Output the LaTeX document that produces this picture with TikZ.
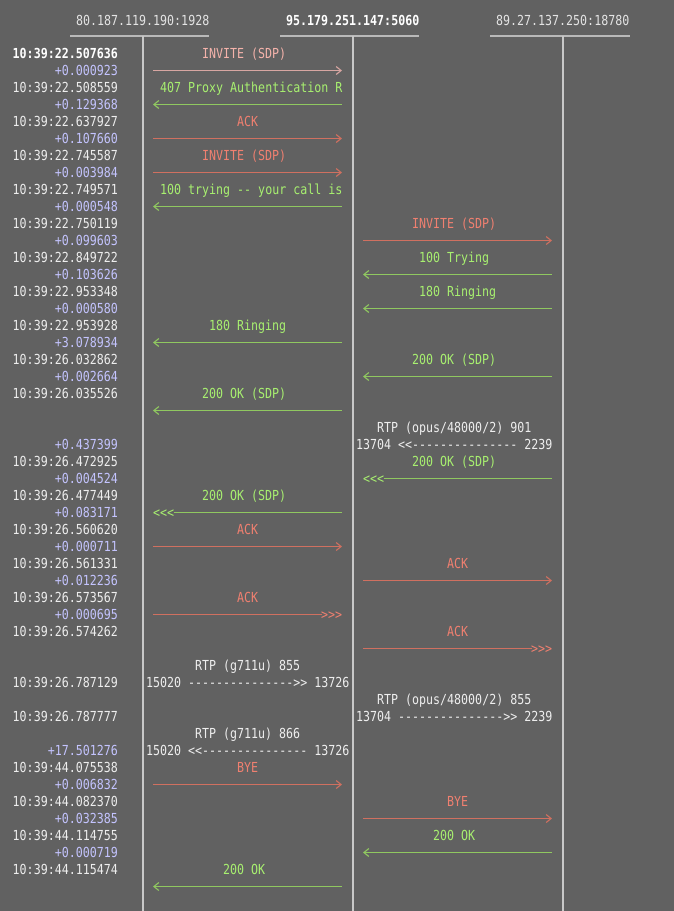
\documentclass[tikz,border=0pt]{standalone}
\usepackage{fontspec}
\newfontfamily\mono[FakeStretch=0.843,Ligatures=TeXOff]{DejaVu Sans Mono}
\usetikzlibrary{arrows.meta}
\definecolor{bg}{HTML}{616161}
\definecolor{fgw}{HTML}{EEEEEE}
\definecolor{hdr}{HTML}{E4E4E4}
\definecolor{lav}{HTML}{C4C4FF}
\definecolor{redt}{HTML}{F08070}
\definecolor{redl}{HTML}{D07060}
\definecolor{pinkt}{HTML}{F5B3AB}
\definecolor{pinkl}{HTML}{D8A6A2}
\definecolor{grnt}{HTML}{A8F070}
\definecolor{grnl}{HTML}{90C860}
\definecolor{life}{HTML}{C8C8C8}
\begin{document}
\begin{tikzpicture}[x=1pt,y=-1pt,
  txt/.style={font=\mono\fontsize{13.8}{15}\selectfont, inner sep=0pt, anchor=base west},
  tim/.style={txt, anchor=base east, text=fgw},
  dlt/.style={txt, anchor=base east, text=lav},
  reqtxt/.style={txt, text=redt},
  seltxt/.style={txt, text=pinkt},
  resptxt/.style={txt, text=grnt},
  rtptxt/.style={txt, text=fgw},
  reqline/.style={draw=redl, line width=1.3pt},
  selline/.style={draw=pinkl, line width=1.3pt},
  respline/.style={draw=grnl, line width=1.3pt},
  tip/.style={-{Straight Barb[length=5pt,width=8pt,line width=1.1pt]}},
  lifeline/.style={draw=life, line width=1.6pt},
  uline/.style={draw=life!85!bg, line width=1.4pt}
]
\fill[bg] (0,0) rectangle (674,911);
\useasboundingbox (0,0) rectangle (674,911);

% headers
\node[txt, text=hdr] (h1) at (76,25) {80.187.119.190:1928};
\node[txt, text=white, font=\mono\fontsize{13.8}{15}\selectfont\bfseries] (h2) at (286,25) {95.179.251.147:5060};
\node[txt, text=hdr] (h3) at (496,25) {89.27.137.250:18780};
\coordinate (u1a) at (70,36); \coordinate (u1b) at (209,36);
\coordinate (u2a) at (280,36); \coordinate (u2b) at (419,36);
\coordinate (u3a) at (490,36); \coordinate (u3b) at (630,36);
\draw[uline] (u1a) -- (u1b);
\draw[uline] (u2a) -- (u2b);
\draw[uline] (u3a) -- (u3b);

% lifelines
\coordinate (L1t) at (143,36); \coordinate (L1b) at (143,911);
\coordinate (L2t) at (353,36); \coordinate (L2b) at (353,911);
\coordinate (L3t) at (563,36); \coordinate (L3b) at (563,911);
\draw[lifeline] (L1t) -- (L1b);
\draw[lifeline] (L2t) -- (L2b);
\draw[lifeline] (L3t) -- (L3b);

% time column
\node[tim, font=\mono\fontsize{13.8}{15}\selectfont\bfseries, text=white] (t0) at (118,58) {10:39:22.507636};
\foreach \k/\t in {2/10:39:22.508559, 4/10:39:22.637927, 6/10:39:22.745587, 8/10:39:22.749571,
  10/10:39:22.750119, 12/10:39:22.849722, 14/10:39:22.953348, 16/10:39:22.953928,
  18/10:39:26.032862, 20/10:39:26.035526, 24/10:39:26.472925, 26/10:39:26.477449,
  28/10:39:26.560620, 30/10:39:26.561331, 32/10:39:26.573567, 34/10:39:26.574262,
  37/10:39:26.787129, 39/10:39:26.787777, 42/10:39:44.075538, 44/10:39:44.082370,
  46/10:39:44.114755, 48/10:39:44.115474}
  \node[tim] (t\k) at (118,{58+17*\k}) {\t};
\foreach \k/\t in {1/+0.000923, 3/+0.129368, 5/+0.107660, 7/+0.003984, 9/+0.000548,
  11/+0.099603, 13/+0.103626, 15/+0.000580, 17/+3.078934, 19/+0.002664,
  23/+0.437399, 25/+0.004524, 27/+0.083171, 29/+0.000711, 31/+0.012236,
  33/+0.000695, 41/+17.501276, 43/+0.006832, 45/+0.032385, 47/+0.000719}
  \node[dlt] (t\k) at (118,{58+17*\k}) {\t};

% messages with single arrow tips
\foreach \k/\c/\lab/\sty/\sa/\sb in {
  0/28/INVITE (SDP)/sel/153/342,
  2/22/407 Proxy Authentication R/resp/342/153,
  4/33/ACK/req/153/342,
  6/28/INVITE (SDP)/req/153/342,
  8/22/100 trying -- your call is/resp/342/153,
  10/58/INVITE (SDP)/req/363/552,
  12/59/100 Trying/resp/552/363,
  14/59/180 Ringing/resp/552/363,
  16/29/180 Ringing/resp/342/153,
  18/58/200 OK (SDP)/resp/552/363,
  20/28/200 OK (SDP)/resp/342/153,
  28/33/ACK/req/153/342,
  30/63/ACK/req/363/552,
  42/33/BYE/req/153/342,
  44/63/BYE/req/363/552,
  46/61/200 OK/resp/552/363,
  48/31/200 OK/resp/342/153}
{
  \node[\sty txt] (m\k) at ({6+7*\c},{58+17*\k}) {\lab};
  \coordinate (a\k) at (\sa,{58+17*(\k+1)-4.5});
  \coordinate (b\k) at (\sb,{58+17*(\k+1)-4.5});
  \draw[\sty line, tip] (a\k) -- (b\k);
}

% messages with triple tips
\foreach \k/\c/\lab/\sty/\sa/\sb/\tc/\tt in {
  24/58/200 OK (SDP)/resp/552/384/51/<<<,
  26/28/200 OK (SDP)/resp/342/174/21/<<<,
  32/33/ACK/req/153/322/45/>>>,
  34/63/ACK/req/363/532/75/>>>}
{
  \node[\sty txt] (m\k) at ({6+7*\c},{58+17*\k}) {\lab};
  \coordinate (a\k) at (\sa,{58+17*(\k+1)-4.5});
  \coordinate (b\k) at (\sb,{58+17*(\k+1)-4.5});
  \draw[\sty line] (a\k) -- (b\k);
  \node[\sty txt] (x\k) at ({6+7*\tc},{58+17*(\k+1)}) {\tt};
}

% RTP streams
\node[rtptxt] (r1) at (377,{58+17*22}) {RTP (opus/48000/2) 901};
\node[rtptxt] (r1s) at (356,{58+17*23}) {13704 <<--------------- 2239};
\node[rtptxt] (r2) at (195,{58+17*36}) {RTP (g711u) 855};
\node[rtptxt] (r2s) at (146,{58+17*37}) {15020 --------------->> 13726};
\node[rtptxt] (r3) at (377,{58+17*38}) {RTP (opus/48000/2) 855};
\node[rtptxt] (r3s) at (356,{58+17*39}) {13704 --------------->> 2239};
\node[rtptxt] (r4) at (195,{58+17*40}) {RTP (g711u) 866};
\node[rtptxt] (r4s) at (146,{58+17*41}) {15020 <<--------------- 13726};
\end{tikzpicture}
\end{document}
